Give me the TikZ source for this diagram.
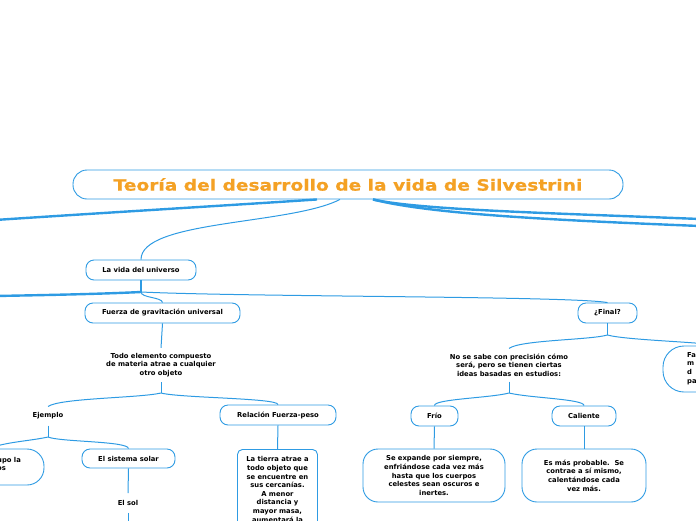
\documentclass[tikz,border=0pt]{standalone}
\usepackage{fontspec}
\setmainfont{DejaVu Sans}
\newfontfamily\titlefont[FakeStretch=1.2, FakeBold=0.6]{DejaVu Sans Bold}
\usetikzlibrary{calc}
\definecolor{lb}{HTML}{2E9BE3}
\definecolor{tor}{HTML}{F4A124}
\tikzset{
  lbl/.style={font=\bfseries\fontsize{6.8}{8.6}\selectfont, align=center},
  box/.style={lbl, draw=lb, line width=0.9pt, rounded corners=8pt, fill=white, inner sep=0pt},
  bigbox/.style={box, rounded corners=15pt},
  txt/.style={lbl, inner xsep=1pt, inner ysep=5pt},
  thinline/.style={draw=lb, line width=1pt},
  thickline/.style={draw=lb, line width=2.4pt},
}
\begin{document}
\begin{tikzpicture}[x=1pt,y=-1pt]
\useasboundingbox (0,0) rectangle (696,520);
\clip (0,0) rectangle (696,520);

% nodes
\node[box, minimum width=550, minimum height=29, rounded corners=14pt,
      font=\titlefont\fontsize{15.5}{18}\selectfont, text=tor] (title) at (348,184.5)
      {Teoría del desarrollo de la vida de Silvestrini};
\node[box, minimum width=110, minimum height=20] (vida) at (141,270) {La vida del universo};
\node[box, minimum width=155, minimum height=20] (fuerza) at (162.5,313) {Fuerza de gravitación universal};
\node[box, minimum width=59, minimum height=20] (final) at (607.5,313) {¿Final?};
\node[txt] (todo) at (161,365) {Todo elemento compuesto\\de materia atrae a cualquier\\otro objeto};
\node[txt, inner ysep=6pt] (ej) at (48,416) {Ejemplo};
\node[box, minimum width=116, minimum height=20] (rel) at (278,415) {Relación Fuerza-peso};
\node[box, minimum width=93, minimum height=19] (sis) at (128.5,458.5) {El sistema solar};
\node[txt, inner ysep=7pt] (sol) at (128,503) {El sol};
\node[bigbox, minimum width=110, minimum height=36, rounded corners=17pt] (grp) at (-11,467) {};
\node[lbl, align=left, anchor=west, inner sep=0pt] (grpt) at (-3,464) {upo la\\os};
\node[box, rounded corners=5pt, anchor=north, text width=80, minimum height=80, inner ysep=6.5pt] (tierra) at (277.5,449)
      {La tierra atrae a\\todo objeto que\\se encuentre en\\sus cercanías.\\A menor\\distancia y\\mayor masa,\\aumentará la};
\node[txt] (nose) at (509,365) {No se sabe con precisión cómo\\será, pero se tienen ciertas\\ideas basadas en estudios:};
\node[box, minimum width=47, minimum height=20] (frio) at (434.5,416) {Frío};
\node[box, minimum width=64, minimum height=20] (cal) at (584,416) {Caliente};
\node[bigbox, minimum width=142, minimum height=53] (exp) at (434,475.5)
      {Se expande por siempre,\\enfriándose cada vez más\\hasta que los cuerpos\\celestes sean oscuros e\\inertes.};
\node[bigbox, minimum width=124, minimum height=53] (mas) at (584,475.5)
      {Es más probable.\ \ Se\\contrae a sí mismo,\\calentándose cada\\vez más.};
\node[bigbox, minimum width=114, minimum height=46, rounded corners=21pt] (fa) at (720,369) {};
\node[lbl, align=left, anchor=west, inner sep=0pt] (fat) at (687,368.5) {Fa\\m\\d\\pa};

% free ends
\coordinate (offL1) at (-5,220);
\coordinate (offR1) at (700,219);
\coordinate (offR2) at (700,226);
\coordinate (offL2) at (-5,296);
\coordinate (vb) at (141,292);
\coordinate (tb) at (161,393);
\coordinate (eb) at (48,437);
\coordinate (fb) at (607.5,335);
\coordinate (nb) at (509,393);
\coordinate (sb) at (128,525);

% connectors
\draw[thinline] ($(title.south)+(-8,0)$) .. controls (290,225) and (141,220) .. (vida.north);
\draw[thickline] ($(title.south)+(-31,0)$) .. controls (250,204) and (100,213) .. (offL1);
\draw[thickline] ($(title.south)+(25,0)$) .. controls (420,210) and (550,213) .. (offR1);
\draw[thickline] ($(title.south)+(25,0)$) .. controls (430,214) and (550,220) .. (offR2);

\draw[thickline] (vida.south) -- (vb);
\draw[thickline] (vb) .. controls (100,294) and (50,295) .. (offL2);
\draw[thinline] (vb) .. controls (250,297) and (570,296) .. (final.north);
\draw[thinline] (vb) .. controls (141,298) and (162,297) .. (fuerza.north);

\draw[thinline] (fuerza.south) -- (todo.north);
\draw[thinline] (todo.south) -- (tb);
\draw[thinline] (tb) .. controls (140,398) and (60,398) .. (ej.north);
\draw[thinline] (tb) .. controls (180,398) and (278,398) .. (rel.north);
\draw[thinline] (ej.south) -- (eb);
\draw[thinline] (eb) .. controls (30,441) and (5,442) .. (grp.north);
\draw[thinline] (eb) .. controls (60,442) and (128,441) .. (sis.north);
\draw[thinline] (sis.south) -- (sol.north);
\draw[thinline] (sol.south) -- (sb);
\draw[thinline] (rel.south) -- (tierra.north);

\draw[thinline] (final.south) -- (fb);
\draw[thinline] (fb) .. controls (590,340) and (520,340) .. (nose.north);
\draw[thinline] (fb) .. controls (625,340) and (700,342) .. (fa.north);
\draw[thinline] (nose.south) -- (nb);
\draw[thinline] (nb) .. controls (490,398) and (434,399) .. (frio.north);
\draw[thinline] (nb) .. controls (530,398) and (584,399) .. (cal.north);
\draw[thinline] (frio.south) -- (exp.north);
\draw[thinline] (cal.south) -- (mas.north);
\end{tikzpicture}
\end{document}
